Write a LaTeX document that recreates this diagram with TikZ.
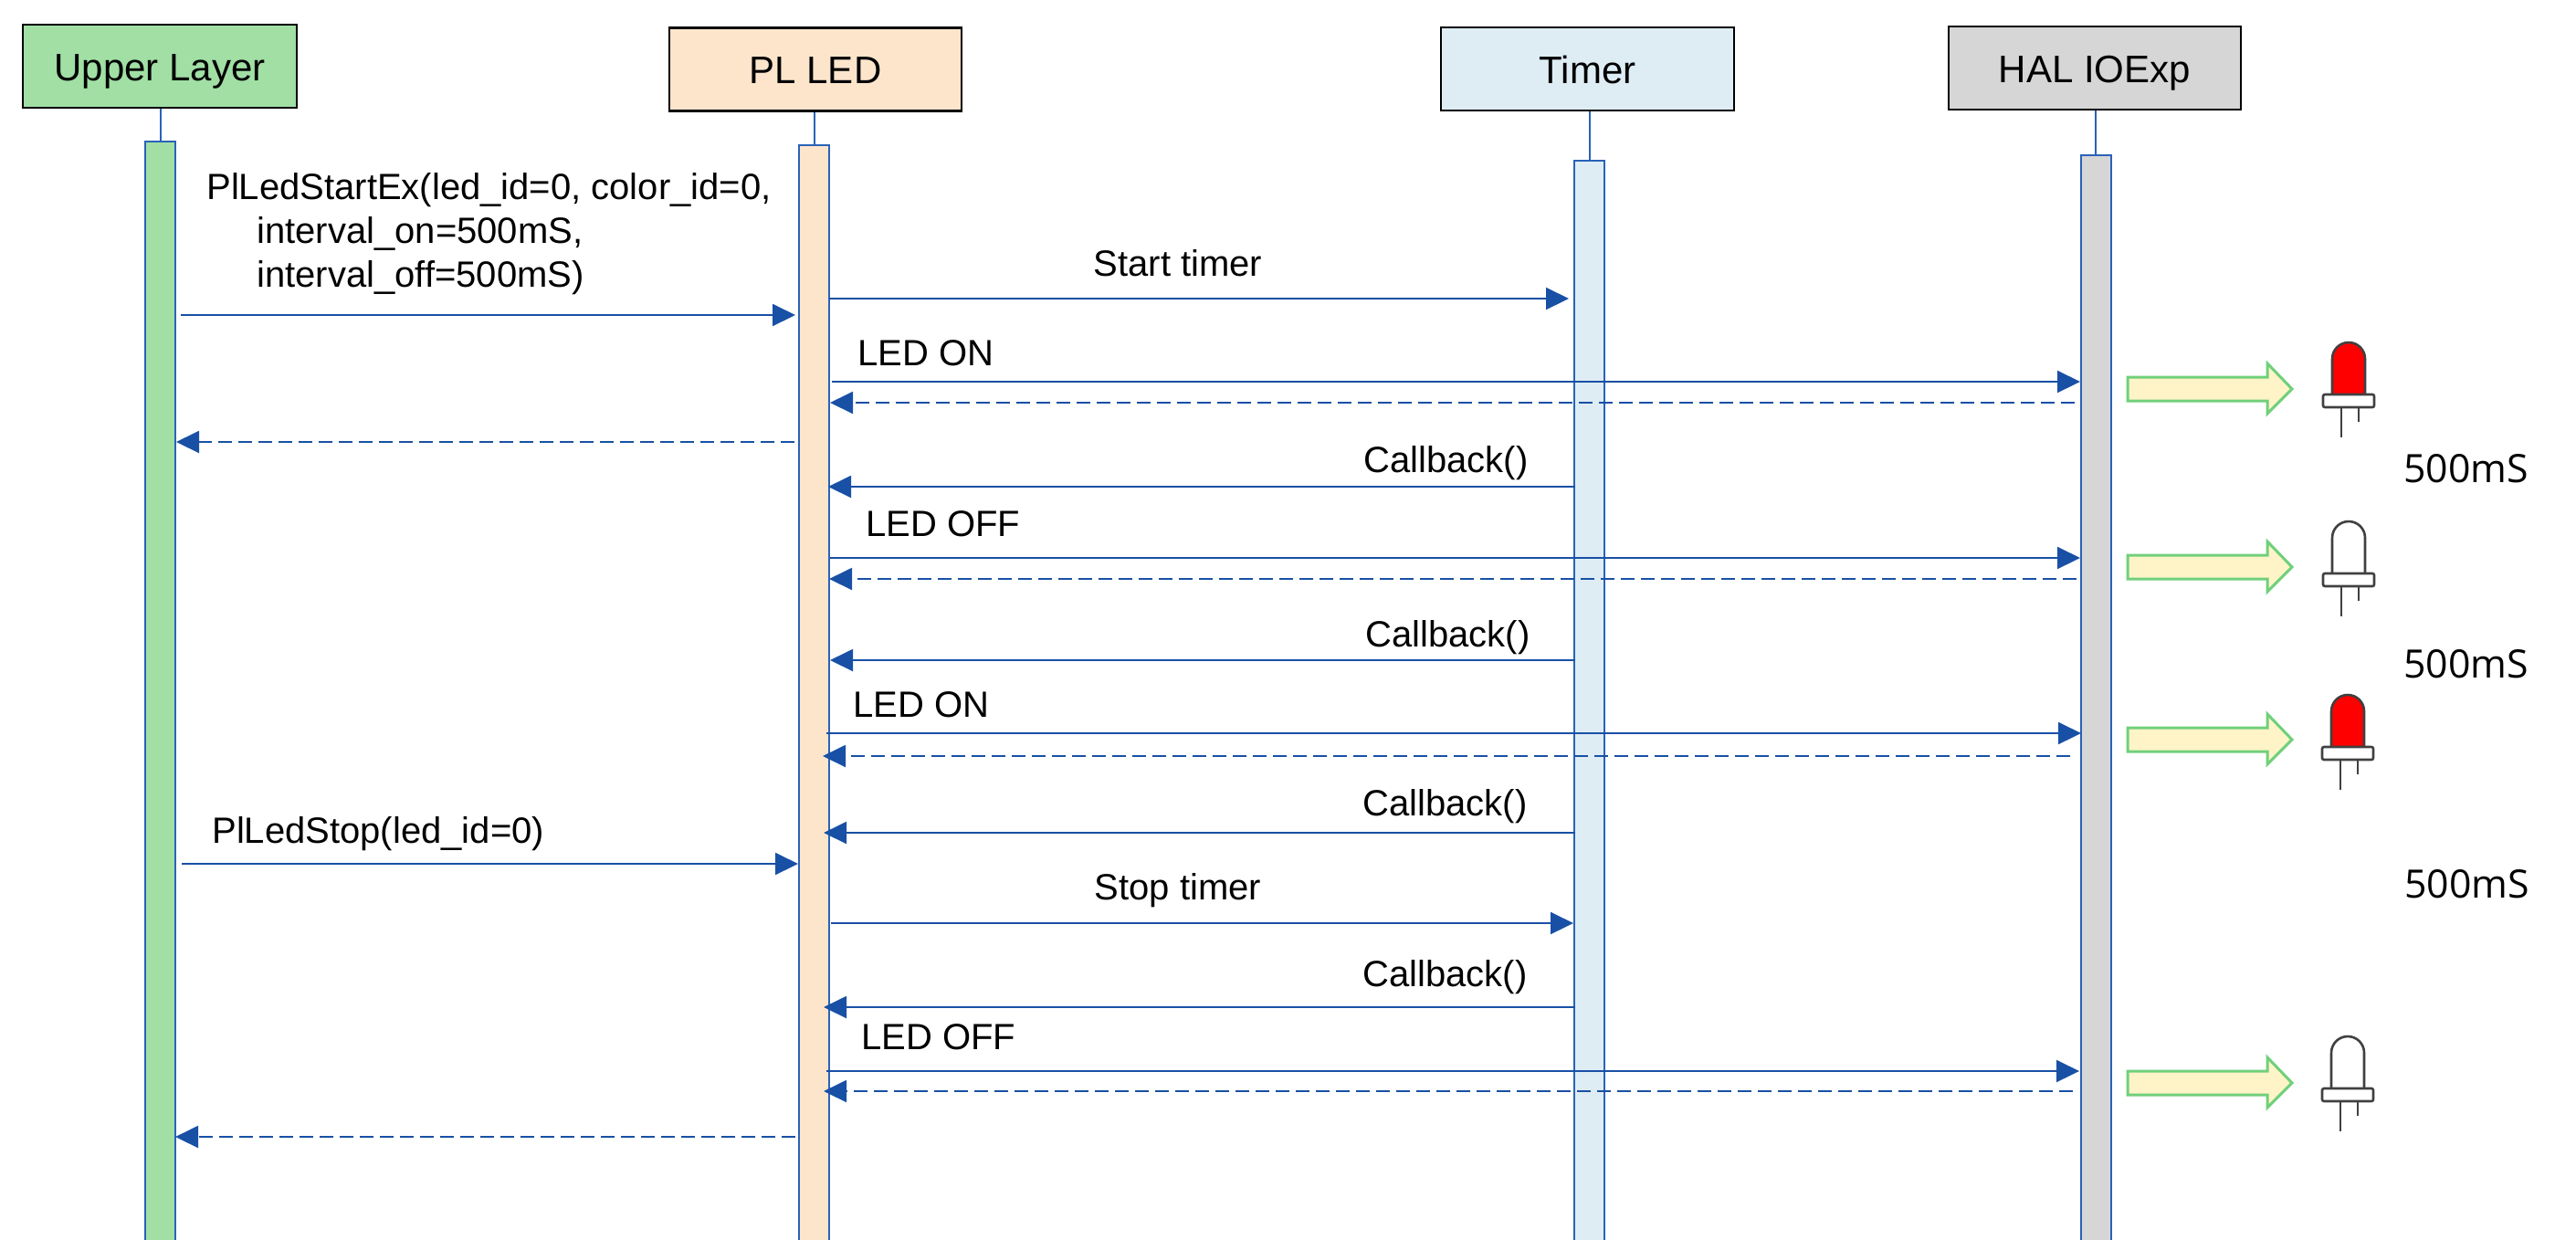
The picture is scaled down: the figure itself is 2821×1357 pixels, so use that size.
\documentclass[tikz,border=0pt]{standalone}
\usepackage{fontspec}
\setmainfont{Liberation Sans}
\newfontfamily\timefont{Open Sans}
\usetikzlibrary{arrows.meta}
\definecolor{linkblue}{HTML}{1850A5}
\definecolor{barblue}{HTML}{2A62B8}
\definecolor{upperfill}{HTML}{A1DFA5}
\definecolor{plledfill}{HTML}{FDE5CC}
\definecolor{timerfill}{HTML}{DEEDF4}
\definecolor{halfill}{HTML}{D6D6D6}
\definecolor{blockfill}{HTML}{FFF4C8}
\definecolor{blockline}{HTML}{70D07A}
\definecolor{ledline}{HTML}{404040}
\tikzset{
  headbox/.style={draw=black, line width=1.2pt, minimum width=150pt, minimum height=45.5pt, inner sep=0pt, text height=15.5pt, text depth=0pt, font=\fontsize{21}{24}\selectfont},
  lifebar/.style={draw=barblue, line width=1pt, anchor=north, minimum width=16.5pt, inner sep=0pt},
  stem/.style={draw=barblue, line width=1pt},
  msg/.style={draw=linkblue, line width=1pt, -{Triangle[length=12.5pt,width=12pt]}, color=linkblue},
  ret/.style={msg, dash pattern=on 7.5pt off 3.5pt},
  lbl/.style={anchor=base west, inner sep=0pt, font=\fontsize{20}{24}\selectfont},
  timelbl/.style={anchor=base west, inner sep=0pt, font=\timefont\fontsize{21.4}{24}\selectfont},
  blockarrow/.pic={
    \draw[line width=1.5pt, draw=blockline, fill=blockfill, miter limit=10] (0,-13) -- (153,-13) -- (153,-28) -- (180,0) -- (153,27) -- (153,13) -- (0,13) -- cycle;
  },
  pics/ledlamp/.style={code={
    \draw[line width=1.3pt, draw=ledline, fill=#1, rounded corners=9pt] (-18,0) -- (-18,-57) -- (18,-57) -- (18,0);
    \draw[line width=1.3pt, draw=ledline, fill=white, rounded corners=1pt] (-28,0) rectangle (28,14);
    \draw[line width=1.3pt, draw=ledline] (-8,14) -- (-8,47);
    \draw[line width=1.3pt, draw=ledline] (11,14) -- (11,30);
  }},
}
\begin{document}
\begin{tikzpicture}[x=0.5pt, y=-0.5pt]
\useasboundingbox (0,0) rectangle (2821,1357);
% header boxes
\node[headbox, fill=upperfill] (upper) at (175,72.5) {Upper Layer};
\node[headbox, fill=plledfill, minimum width=160pt] (plled) at (893,76) {PL LED};
\node[headbox, fill=timerfill, minimum width=160.5pt] (timer) at (1738.5,75.5) {Timer};
\node[headbox, fill=halfill, minimum width=160pt] (hal) at (2294,74.5) {HAL IOExp};
% lifelines
\node[lifebar, fill=upperfill, minimum height=602pt] (upperbar) at (175.5,154) {};
\node[lifebar, fill=plledfill, minimum height=600pt] (plledbar) at (891.5,158) {};
\node[lifebar, fill=timerfill, minimum height=592pt] (timerbar) at (1740.5,175) {};
\node[lifebar, fill=halfill, minimum height=595pt] (halbar) at (2295,169) {};
\draw[stem] (upperbar.north |- upper.south) -- (upperbar);
\draw[stem] (plledbar.north |- plled.south) -- (plledbar);
\draw[stem] (timerbar.north |- timer.south) -- (timerbar);
\draw[stem] (halbar.north |- hal.south) -- (halbar);
% messages
\coordinate (startexa) at (198,345); \coordinate (startexb) at (871,345);
\coordinate (starttma) at (908,327); \coordinate (starttmb) at (1718,327);
\coordinate (onea) at (911,418); \coordinate (oneb) at (2278,418);
\coordinate (oneretra) at (2272,441); \coordinate (oneretrb) at (909,441);
\coordinate (upretra) at (870,484); \coordinate (upretrb) at (193,484);
\coordinate (cba) at (1725,533); \coordinate (cbb) at (907,533);
\coordinate (offa) at (909,611); \coordinate (offb) at (2278,611);
\coordinate (offretra) at (2274,634); \coordinate (offretrb) at (908,634);
\coordinate (cbtwoa) at (1725,723); \coordinate (cbtwob) at (909,723);
\coordinate (twoa) at (905,803); \coordinate (twob) at (2279,803);
\coordinate (tworetra) at (2267,828); \coordinate (tworetrb) at (901,828);
\coordinate (cbthreea) at (1725,912); \coordinate (cbthreeb) at (902,912);
\coordinate (stopa) at (199,946); \coordinate (stopb) at (874,946);
\coordinate (stoptma) at (910,1011); \coordinate (stoptmb) at (1723,1011);
\coordinate (cbfoura) at (1725,1103); \coordinate (cbfourb) at (902,1103);
\coordinate (lasta) at (905,1173); \coordinate (lastb) at (2277,1173);
\coordinate (lastretra) at (2270,1195); \coordinate (lastretrb) at (902,1195);
\coordinate (endretra) at (871,1245); \coordinate (endretrb) at (192,1245);
\draw[msg] (startexa) -- (startexb);
\draw[msg] (starttma) -- (starttmb);
\draw[msg] (onea) -- (oneb);
\draw[ret] (oneretra) -- (oneretrb);
\draw[ret] (upretra) -- (upretrb);
\draw[msg] (cba) -- (cbb);
\draw[msg] (offa) -- (offb);
\draw[ret] (offretra) -- (offretrb);
\draw[msg] (cbtwoa) -- (cbtwob);
\draw[msg] (twoa) -- (twob);
\draw[ret] (tworetra) -- (tworetrb);
\draw[msg] (cbthreea) -- (cbthreeb);
\draw[msg] (stopa) -- (stopb);
\draw[msg] (stoptma) -- (stoptmb);
\draw[msg] (cbfoura) -- (cbfourb);
\draw[msg] (lasta) -- (lastb);
\draw[ret] (lastretra) -- (lastretrb);
\draw[ret] (endretra) -- (endretrb);
% labels
\node[lbl, align=left] (startexlbl) at (226,314) {PlLedStartEx(led\_id=0, color\_id=0,\\\hspace*{27.5pt}interval\_on=500mS,\\\hspace*{27.5pt}interval\_off=500mS)};
\node[lbl, anchor=base] (starttmlbl) at (1290,302) {Start timer};
\node[lbl] (onelbl) at (939,400) {LED ON};
\node[lbl] (cblbl) at (1493,517) {Callback()};
\node[lbl] (offlbl) at (948,587) {LED OFF};
\node[lbl] (cbtwolbl) at (1495,708) {Callback()};
\node[lbl] (twolbl) at (934,785) {LED ON};
\node[lbl] (cbthreelbl) at (1492,893) {Callback()};
\node[lbl] (stoplbl) at (232,923) {PlLedStop(led\_id=0)};
\node[lbl, anchor=base] (stoptmlbl) at (1290,985) {Stop timer};
\node[lbl] (cbfourlbl) at (1492,1080) {Callback()};
\node[lbl] (lastlbl) at (943,1149) {LED OFF};
\node[timelbl] (timeone) at (2632,528) {500mS};
\node[timelbl] (timetwo) at (2632,742) {500mS};
\node[timelbl] (timethree) at (2633,983) {500mS};
% block arrows and lamps
\pic at (2330,426) {blockarrow};
\pic at (2330,621) {blockarrow};
\pic at (2330,810) {blockarrow};
\pic at (2330,1186) {blockarrow};
\pic at (2572,432) {ledlamp=red};
\pic at (2572,628) {ledlamp=white};
\pic at (2571,818) {ledlamp=red};
\pic at (2571,1192) {ledlamp=white};
\end{tikzpicture}
\end{document}
